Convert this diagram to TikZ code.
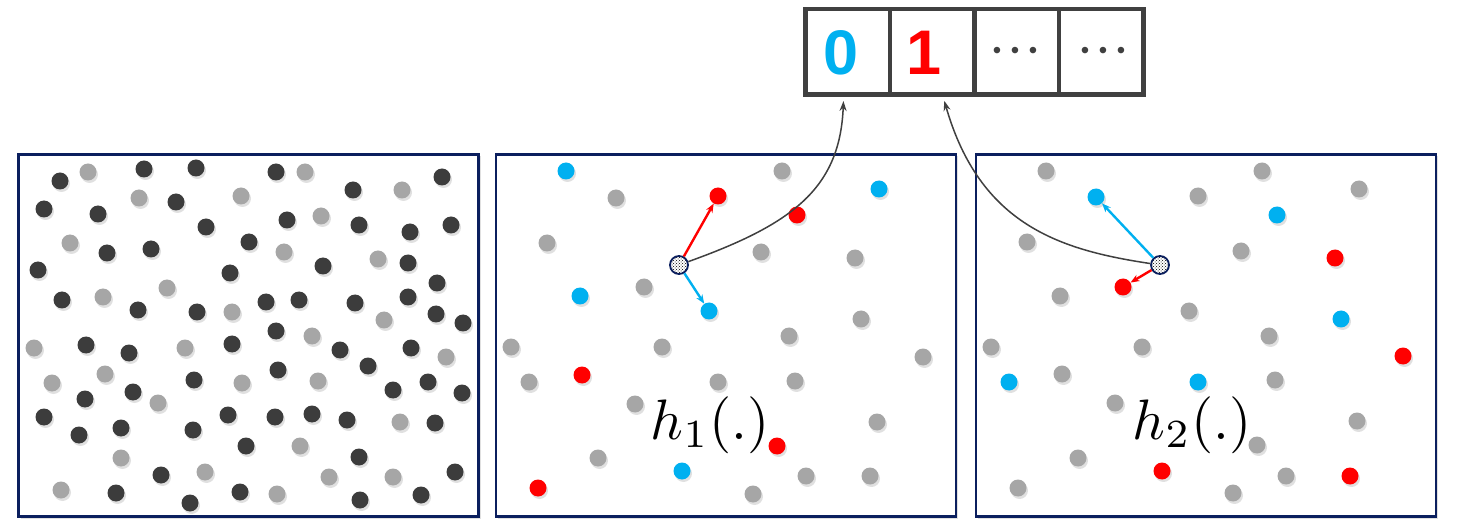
\documentclass[tikz,border=0pt]{standalone}
\usepackage{fontspec}
\newfontfamily\arialf{Liberation Sans}
\usetikzlibrary{shadows,patterns,arrows.meta}
\definecolor{cD}{HTML}{3C3C3C}
\definecolor{cL}{HTML}{A6A6A6}
\definecolor{cG}{HTML}{A6A6A6}
\definecolor{cB}{HTML}{00B0F0}
\definecolor{cR}{HTML}{FF0000}
\definecolor{navy}{HTML}{0B1F5E}
\definecolor{boxgray}{HTML}{404040}
\begin{document}
\begin{tikzpicture}[x=1pt,y=-1pt,
  dot/.style={circle,inner sep=0pt,minimum size=17pt,draw=none,
    drop shadow={shadow xshift=1.5pt,shadow yshift=-2.5pt,opacity=0.12,fill=black}},
  panel/.style={draw=navy,line width=2.5pt,fill=white,inner sep=0pt,
    drop shadow={shadow xshift=2pt,shadow yshift=-2pt,opacity=0.12,fill=black}},
  cell/.style={draw=boxgray,line width=4.5pt,fill=white,inner sep=0pt,
    minimum width=84.6pt,minimum height=85.5pt},
  hatch/.style={circle,inner sep=0pt,minimum size=18pt,draw=navy,line width=1.8pt,
    preaction={fill=white},pattern=crosshatch dots,pattern color=black},
  colarrow/.style={line width=2.4pt,-{Stealth[length=9pt,width=7pt]}},
  link/.style={boxgray,line width=1.5pt,-{Stealth[length=10pt,width=7pt]}},
  digit/.style={font=\arialf\bfseries\fontsize{63}{63}\selectfont,inner sep=0pt},
  ell/.style={font=\arialf\fontsize{24}{24}\selectfont,text=boxgray,inner sep=0pt},
  hlabel/.style={font=\fontsize{10}{12}\selectfont,scale=5.7,inner sep=0pt}
]
\useasboundingbox[fill=white] (0,0) rectangle (1458,526);

% top array
\node[cell] (C0) at (847.6,52) {};
\node[cell] (C1) at (932.2,52) {};
\node[cell] (C2) at (1016.8,52) {};
\node[cell] (C3) at (1101.4,52) {};
\node[digit,text=cB] (T0) at (841,53) {0};
\node[digit,text=cR] (T1) at (924,53) {1};
\node[ell] (E2) at (1015,53) {\textbullet\hspace{9.6pt}\textbullet\hspace{9.6pt}\textbullet};
\node[ell] (E3) at (1103,53) {\textbullet\hspace{9.6pt}\textbullet\hspace{9.6pt}\textbullet};

% panels
\node[panel,minimum width=460pt,minimum height=362pt] (P1) at (248.5,335.5) {};
\node[panel,minimum width=460pt,minimum height=362pt] (P2) at (726,335.5) {};
\node[panel,minimum width=460pt,minimum height=362pt] (P3) at (1206,335.5) {};

% panel 1 dots
\foreach \x/\y/\c [count=\n] in {
60/181/D,88/172/L,144/169/D,196/168/D,276/172/D,305/172/L,353/190/D,402/190/L,442/177/D,
139/198/L,176/202/D,241/196/L,44/209/D,98/214/D,206/227/D,287/220/D,321/216/L,359/225/D,
410/232/D,451/225/D,70/243/L,107/253/D,151/249/D,249/242/D,284/252/L,378/259/L,408/263/D,
38/270/D,230/273/D,323/266/D,437/283/D,62/300/D,103/297/L,167/288/L,138/310/D,197/312/D,
232/312/L,266/302/D,299/300/D,355/303/D,408/297/D,436/314/D,463/323/D,384/320/L,
34/348/L,86/345/D,129/353/D,185/348/L,232/344/D,276/331/D,312/336/L,340/350/D,368/366/D,
411/348/D,446/357/L,52/383/L,105/374/L,194/380/D,242/383/L,278/370/D,318/381/L,393/390/D,
428/382/D,462/393/D,85/399/D,133/392/D,158/403/L,44/417/D,79/435/D,121/428/D,193/430/D,
228/415/D,275/417/D,312/414/D,347/420/D,400/422/L,435/423/D,246/446/D,300/446/L,121/458/L,
359/457/D,161/475/D,205/472/L,329/477/L,393/477/L,455/472/D,61/490/L,116/493/D,190/503/D,
240/492/D,277/494/L,360/500/D,421/495/D}
  {\node[dot,fill=c\c] (a\n) at (\x,\y) {};}

% panel 2 dots
\foreach \x/\y/\c [count=\n] in {
566/171/B,616/198/G,782/171/G,879/189/B,797/215/R,547/243/G,761/252/G,855/258/G,
580/296/B,644/287/G,861/319/G,511/347/G,662/347/G,789/336/G,923/357/G,529/382/G,
582/375/R,718/382/G,795/381/G,635/404/G,877/422/G,777/446/R,598/458/G,682/471/B,
806/476/G,870/476/G,538/488/R,753/494/G}
  {\node[dot,fill=c\c] (b\n) at (\x,\y) {};}
\node[dot,fill=cR] (R1) at (718,196) {};
\node[dot,fill=cB] (B1) at (709,311) {};

% panel 3 dots
\foreach \x/\y/\c [count=\n] in {
1046/171/G,1262/171/G,1359/189/G,1198/196/G,1277/215/B,1027/242/G,1241/251/G,
1335/258/R,1060/296/G,1189/311/G,1341/319/B,991/347/G,1142/347/G,1269/336/G,1403/356/R,
1009/382/B,1062/374/G,1198/382/B,1275/380/G,1115/403/G,1357/421/G,1257/445/G,1078/458/G,
1162/471/R,1286/476/G,1350/476/R,1018/488/G,1233/493/G}
  {\node[dot,fill=c\c] (c\n) at (\x,\y) {};}
\node[dot,fill=cB] (B2) at (1096,197) {};
\node[dot,fill=cR] (R2) at (1123,287) {};

% labels
\node[hlabel] (L1) at (710,425) {$h_1(.)$};
\node[hlabel] (L2) at (1192,425) {$h_2(.)$};

% hashed points
\node[hatch] (H1) at (679,265) {};
\node[hatch] (H2) at (1160,265) {};

% arrows
\draw[colarrow,cR] (H1) -- (R1);
\draw[colarrow,cB] (H1) -- (B1);
\draw[colarrow,cB] (H2) -- (B2);
\draw[colarrow,cR] (H2) -- (R2);
\draw[link,shorten >=4pt] (H1) .. controls (790,225) and (840,190) .. ([xshift=-4pt]C0.south);
\draw[link,shorten >=4pt] (H2) .. controls (1060,250) and (980,225) .. ([xshift=11pt]C1.south);
\end{tikzpicture}
\end{document}
